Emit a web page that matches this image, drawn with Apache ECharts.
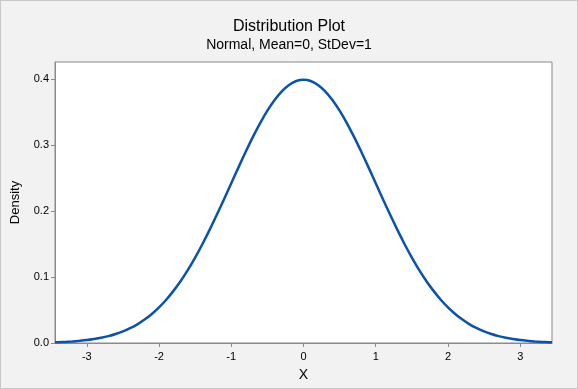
<!DOCTYPE html>
<html>
<head>
<meta charset="utf-8">
<script src="https://cdn.jsdelivr.net/npm/echarts@6/dist/echarts.min.js"></script>
<style>
html,body{margin:0;padding:0;background:#f2f2f2;}
#c{width:576px;height:387px;border:1px solid #c8c8c8;background:#f2f2f2;}
</style>
</head>
<body>
<div id="c"></div>
<script>
const xValues = [-3.44,-3.4,-3.3,-3.2,-3.1,-3.0,-2.9,-2.8,-2.7,-2.6,-2.5,-2.4,-2.3,-2.2,-2.1,-2.0,-1.9,-1.8,-1.7,-1.6,-1.5,-1.4,-1.3,-1.2,-1.1,-1.0,-0.9,-0.8,-0.7,-0.6,-0.5,-0.4,-0.3,-0.2,-0.1,0,0.1,0.2,0.3,0.4,0.5,0.6,0.7,0.8,0.9,1.0,1.1,1.2,1.3,1.4,1.5,1.6,1.7,1.8,1.9,2.0,2.1,2.2,2.3,2.4,2.5,2.6,2.7,2.8,2.9,3.0,3.1,3.2,3.3,3.4,3.44];
const density = [0.0011,0.0012,0.0017,0.0024,0.0033,0.0044,0.0060,0.0079,0.0104,0.0136,0.0175,0.0224,0.0283,0.0355,0.0440,0.0540,0.0656,0.0790,0.0940,0.1109,0.1295,0.1497,0.1714,0.1942,0.2179,0.2420,0.2661,0.2897,0.3123,0.3332,0.3521,0.3683,0.3814,0.3910,0.3970,0.3989,0.3970,0.3910,0.3814,0.3683,0.3521,0.3332,0.3123,0.2897,0.2661,0.2420,0.2179,0.1942,0.1714,0.1497,0.1295,0.1109,0.0940,0.0790,0.0656,0.0540,0.0440,0.0355,0.0283,0.0224,0.0175,0.0136,0.0104,0.0079,0.0060,0.0044,0.0033,0.0024,0.0017,0.0012,0.0011];
const xTicks = [-3,-2,-1,0,1,2,3];
const yTicks = [0,0.1,0.2,0.3,0.4];
const titleText = 'Distribution Plot';
const subtitleText = 'Normal, Mean=0, StDev=1';

const chart = echarts.init(document.getElementById('c'), null, {renderer:'canvas'});
const font = 'Liberation Sans, Arial, Helvetica, sans-serif';
chart.setOption({
  animation:false,
  backgroundColor:'#f2f2f2',
  textStyle:{fontFamily:font},
  title:{
    text:titleText, subtext:subtitleText, left:'center', top:13, itemGap:3,
    textStyle:{fontFamily:font,fontSize:16,fontWeight:'normal',color:'#000'},
    subtextStyle:{fontFamily:font,fontSize:14,color:'#000'}
  },
  grid:{left:53,right:25,top:61,bottom:45,show:true,backgroundColor:'#fff',borderColor:'#8a8a8a',borderWidth:1},
  xAxis:{
    type:'value', min:-3.44, max:3.44,
    name:'X', nameLocation:'middle', nameGap:25,
    nameTextStyle:{fontFamily:font,fontSize:14,color:'#000'},
    axisLine:{show:true,onZero:false,lineStyle:{color:'#8a8a8a'}},
    axisTick:{show:true,length:4,lineStyle:{color:'#8a8a8a'},customValues:xTicks},
    axisLabel:{color:'#000',fontSize:11,margin:8,customValues:xTicks,formatter:v=>String(v)},
    splitLine:{show:false}
  },
  yAxis:{
    type:'value', min:0, max:0.4258,
    name:'Density', nameLocation:'middle', nameGap:33, nameRotate:90,
    nameTextStyle:{fontFamily:font,fontSize:13,color:'#000'},
    axisLine:{show:true,onZero:false,lineStyle:{color:'#8a8a8a'}},
    axisTick:{show:true,length:4,lineStyle:{color:'#8a8a8a'},customValues:yTicks},
    axisLabel:{color:'#000',fontSize:11,margin:6,customValues:yTicks,formatter:v=>v.toFixed(1)},
    splitLine:{show:false}
  },
  series:[{
    type:'line', smooth:0.3, symbol:'none',
    data:xValues.map((x,i)=>[x,density[i]]),
    lineStyle:{color:'#0a52aa',width:2.5},
    clip:true
  }]
});
</script>
</body>
</html>
